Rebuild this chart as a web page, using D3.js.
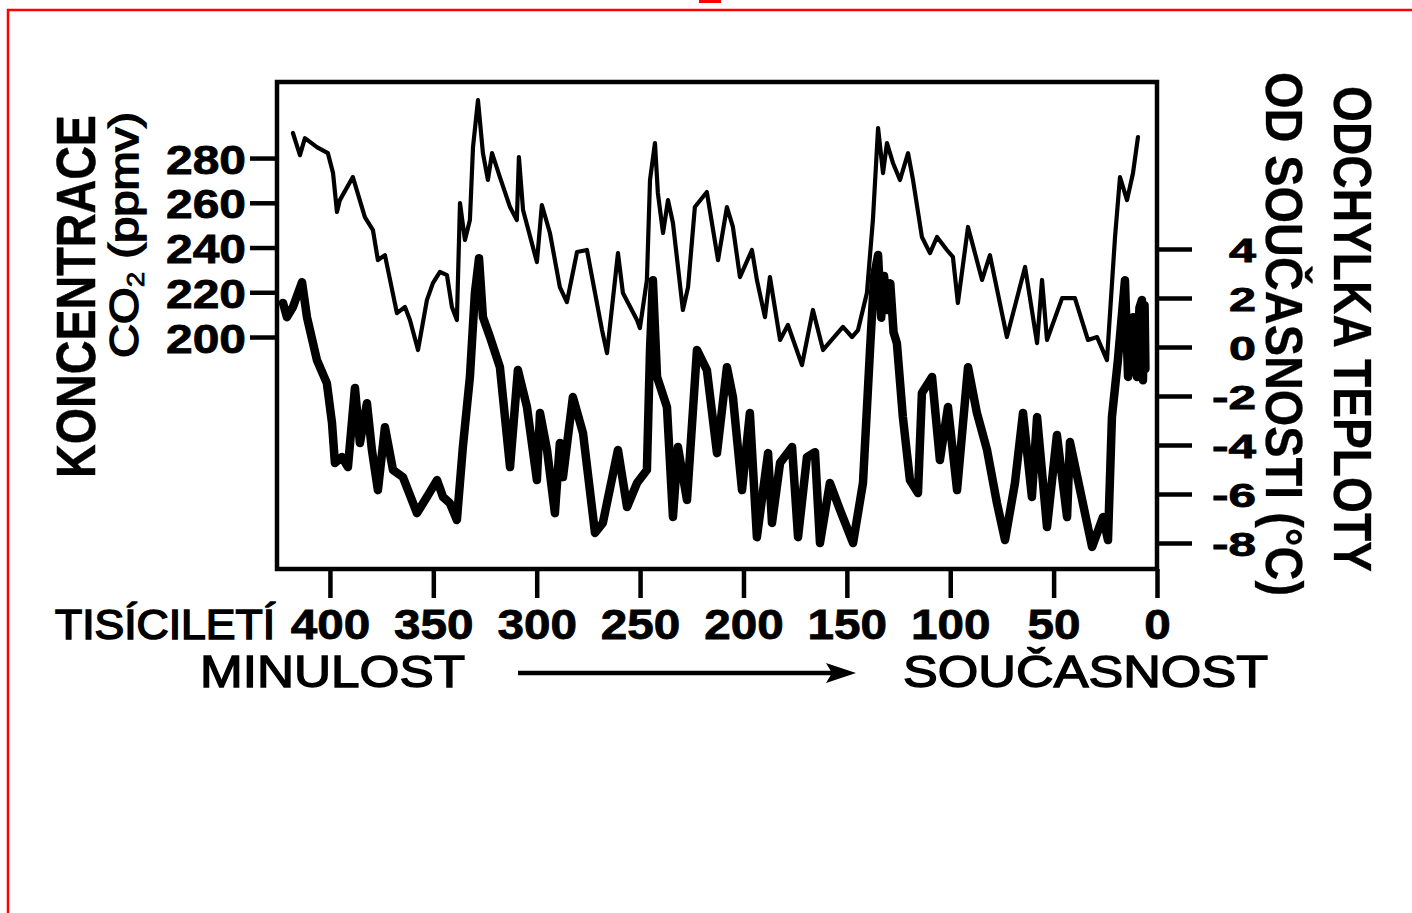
<!DOCTYPE html>
<html>
<head>
<meta charset="utf-8">
<script src="https://cdn.jsdelivr.net/npm/d3@7"></script>
<style>
  html, body { margin: 0; padding: 0; background: #fff; }
  svg { display: block; font-family: "Liberation Sans", Arial, Helvetica, sans-serif; }
</style>
</head>
<body>
<svg id="chart" width="1412" height="913"></svg>
<script>
// ---- data (thousands of years before present) ----
const co2Age = [417.9,414.5,412.1,406.3,401.0,398.5,396.6,395.2,388.9,383.1,379.2,376.8,373.4,367.6,363.7,361.3,357.4,353.1,350.2,346.8,343.4,341.0,338.6,337.1,334.7,332.3,330.8,328.4,326.0,323.6,321.6,317.8,312.9,309.6,308.6,306.6,299.9,297.5,293.6,288.8,285.4,280.5,275.7,271.8,268.4,266.0,260.7,258.3,251.5,250.1,246.7,245.2,242.8,241.4,238.9,236.5,234.1,229.3,226.8,223.5,217.7,212.3,208.0,205.1,201.7,195.9,193.5,189.6,187.2,182.3,178.5,171.7,166.4,161.5,151.9,147.5,144.6,140.3,137.4,134.9,132.5,130.6,127.7,124.3,120.4,118.0,113.7,109.8,106.4,101.6,98.7,96.3,91.4,84.6,80.8,72.6,63.8,58.0,55.6,53.2,45.9,39.7,33.4,29.0,24.2,20.3,17.9,14.5,11.6,9.2];
const co2Value = [291.2,281.3,288.9,284.9,282.2,273.3,255.9,261.2,271.5,253.6,247.8,234.4,236.6,210.7,213.4,207.6,194.2,216.5,224.1,229.1,227.7,213.4,207.6,259.9,243.4,252.3,284.9,305.9,282.2,270.2,282.2,271.5,258.1,252.3,280.4,256.8,233.5,259.0,246.5,222.3,215.6,238.0,238.9,219.7,203.1,192.8,237.5,219.7,207.6,204.0,225.5,270.2,286.7,264.4,246.5,261.2,251.0,212.1,222.3,258.1,264.8,234.4,258.1,249.2,226.8,238.9,225.5,208.9,226.8,198.7,205.4,187.5,212.1,194.2,204.5,200.0,203.1,219.7,252.3,293.4,273.3,286.7,277.8,270.2,282.2,270.2,244.7,237.5,244.7,238.9,235.8,215.2,249.2,225.5,236.6,200.0,231.3,197.3,225.5,198.7,217.4,217.4,198.7,200.0,189.7,244.7,271.5,261.2,273.3,289.4];

const tempAge = [422.7,420.8,417.9,413.5,411.1,406.3,401.5,399.0,397.6,394.2,391.3,387.9,385.5,382.1,379.7,376.8,373.4,369.5,364.7,357.9,353.1,348.2,345.3,342.0,338.6,335.7,332.3,329.9,327.9,326.0,322.6,317.8,312.9,309.1,304.7,299.9,298.4,295.0,291.2,288.8,287.3,282.5,277.6,271.8,268.0,260.7,256.3,251.5,246.7,245.2,243.8,241.8,237.0,234.1,231.7,227.3,222.5,217.7,212.8,208.0,205.1,200.7,196.9,193.5,188.1,186.2,182.3,176.5,173.6,169.3,165.4,163.0,158.2,153.3,147.0,142.2,138.8,136.8,134.9,133.4,132.0,130.6,129.0,127.4,125.8,122.9,119.5,115.6,113.7,108.8,105.0,101.1,96.7,91.4,87.1,82.2,77.4,73.5,68.7,64.8,60.5,58.0,53.2,48.4,43.5,42.1,37.2,31.4,26.1,23.7,21.8,18.9,15.5,14.0,11.6,10.6,9.7,8.5,7.3,6.8,6.0,5.6];
const tempValue = [1.80,1.22,1.63,2.65,1.22,-0.53,-1.47,-3.10,-4.73,-4.49,-4.90,-1.67,-3.92,-2.29,-4.20,-5.84,-3.27,-5.02,-5.31,-6.78,-6.12,-5.43,-6.12,-6.37,-7.06,-4.08,-1.22,2.20,3.63,1.22,0.41,-0.82,-4.90,-0.94,-2.45,-5.43,-2.69,-4.20,-6.78,-3.92,-5.31,-2.04,-3.51,-7.59,-7.18,-4.20,-6.53,-5.55,-5.02,-0.12,2.73,-1.22,-2.45,-6.94,-4.08,-6.24,-0.12,-0.94,-4.33,-0.82,-2.04,-5.84,-2.69,-7.76,-4.33,-7.18,-4.73,-4.08,-7.76,-4.49,-4.29,-8.00,-5.55,-6.65,-8.00,-5.55,-0.12,2.9,3.76,1.2,2.9,1.51,2.6,0.6,0.16,-2.86,-5.43,-5.96,-1.88,-1.22,-4.61,-2.45,-5.84,-0.82,-2.69,-4.20,-6.37,-7.88,-5.55,-2.69,-6.12,-2.86,-7.35,-3.59,-6.94,-3.88,-5.84,-8.16,-6.94,-7.88,-2.86,-0.53,2.73,-1.22,1.22,-0.6,-1.22,1.6,1.92,-1.35,1.7,-0.9];

const ageTicks = [400, 350, 300, 250, 200, 150, 100, 50, 0];
const co2Ticks = [200, 220, 240, 260, 280];
const tempTicks = [-8, -6, -4, -2, 0, 2, 4];

const xAxisLabel = "TISÍCILETÍ";
const pastLabel = "MINULOST";
const presentLabel = "SOUČASNOST";
const leftTitle1 = "KONCENTRACE";
const rightTitle1 = "ODCHYLKA TEPLOTY";
const rightTitle2 = "OD SOUČASNOSTI (°C)";

// ---- layout ----
const svg = d3.select("#chart");
const frame = { left: 277, right: 1157, top: 82, bottom: 569 };

const x = d3.scaleLinear().domain([425.6, 0]).range([frame.left, frame.right]);
const yCO2 = d3.scaleLinear().domain([96.3, 314]).range([frame.bottom, frame.top]);
const yT = d3.scaleLinear().domain([-9.06, 10.82]).range([frame.bottom, frame.top]);

// red outer border (from the source page)
svg.append("rect").attr("x", 8).attr("y", 10).attr("width", 1420).attr("height", 920)
  .attr("fill", "none").attr("stroke", "#ff0000").attr("stroke-width", 2.5);
svg.append("rect").attr("x", 699).attr("y", 0).attr("width", 22).attr("height", 3).attr("fill", "#ff0000");

// ---- lines ----
const co2Data = co2Age.map((a, i) => [a, co2Value[i]]);
const tempData = tempAge.map((a, i) => [a, tempValue[i]]);

svg.append("path").datum(tempData)
  .attr("d", d3.line().x(d => x(d[0])).y(d => yT(d[1])))
  .attr("fill", "none").attr("stroke", "#000").attr("stroke-width", 8.5)
  .attr("stroke-linejoin", "round").attr("stroke-linecap", "round");

svg.append("path").datum(co2Data)
  .attr("d", d3.line().x(d => x(d[0])).y(d => yCO2(d[1])))
  .attr("fill", "none").attr("stroke", "#000").attr("stroke-width", 4.2)
  .attr("stroke-linejoin", "round").attr("stroke-linecap", "round");

// frame
svg.append("rect").attr("x", frame.left).attr("y", frame.top)
  .attr("width", frame.right - frame.left).attr("height", frame.bottom - frame.top)
  .attr("fill", "none").attr("stroke", "#000").attr("stroke-width", 4.5);

// ---- axes ----
const fmtMinus = d => (d < 0 ? "-" + Math.abs(d) : String(d));

const gx = svg.append("g").attr("transform", `translate(0,${frame.bottom})`)
  .call(d3.axisBottom(x).tickValues(ageTicks).tickSize(29).tickFormat(d3.format("d")));
gx.select(".domain").remove();
gx.selectAll(".tick line").attr("stroke", "#000").attr("stroke-width", 4.5);
gx.selectAll(".tick text")
  .attr("y", 70).attr("dy", null)
  .attr("font-size", 42).attr("font-weight", "bold").attr("fill", "#000")
  .attr("stroke", "#000").attr("stroke-width", 0.8)
  .attr("font-family", "Liberation Sans, Arial, sans-serif")
  .attr("textLength", d => String(d).length * 26.5)
  .attr("lengthAdjust", "spacingAndGlyphs");

const gl = svg.append("g").attr("transform", `translate(${frame.left},0)`)
  .call(d3.axisLeft(yCO2).tickValues(co2Ticks).tickSize(27).tickFormat(d3.format("d")));
gl.select(".domain").remove();
gl.selectAll(".tick line").attr("stroke", "#000").attr("stroke-width", 4.5);
gl.selectAll(".tick text")
  .attr("x", -31).attr("dy", null).attr("y", 15)
  .attr("font-size", 41).attr("font-weight", "bold").attr("fill", "#000")
  .attr("stroke", "#000").attr("stroke-width", 0.8)
  .attr("font-family", "Liberation Sans, Arial, sans-serif")
  .attr("textLength", 80).attr("lengthAdjust", "spacingAndGlyphs");

const gr = svg.append("g").attr("transform", `translate(${frame.right},0)`)
  .call(d3.axisRight(yT).tickValues(tempTicks).tickSize(35).tickFormat(fmtMinus));
gr.select(".domain").remove();
gr.selectAll(".tick line").attr("stroke", "#000").attr("stroke-width", 4.5);
gr.selectAll(".tick text")
  .attr("x", 99).attr("dy", null).attr("y", 12)
  .attr("text-anchor", "end")
  .attr("font-size", 33).attr("font-weight", "bold").attr("fill", "#000")
  .attr("stroke", "#000").attr("stroke-width", 0.8)
  .attr("font-family", "Liberation Sans, Arial, sans-serif")
  .attr("textLength", d => (d < 0 ? 17 : 0) + 27)
  .attr("lengthAdjust", "spacingAndGlyphs");

// ---- titles ----
const txt = (tx, ty, rot, str, size, weight, len, sw) =>
  svg.append("text")
    .attr("transform", `translate(${tx},${ty}) rotate(${rot})`)
    .attr("font-size", size).attr("font-weight", weight)
    .attr("fill", "#000").attr("stroke", "#000").attr("stroke-width", sw)
    .attr("textLength", len).attr("lengthAdjust", "spacingAndGlyphs")
    .text(str);

txt(55, 639, 0, xAxisLabel, 42, "normal", 220, 1.6);
txt(200, 687, 0, pastLabel, 45, "normal", 265, 1.4);
txt(903, 687, 0, presentLabel, 45, "normal", 365, 1.4);

txt(95, 478, -90, leftTitle1, 55, "bold", 363, 0.5);
// CO2 (ppmv) with subscript
const co2t = svg.append("text")
  .attr("transform", `translate(138,358) rotate(-90)`)
  .attr("font-size", 41).attr("fill", "#000")
  .attr("stroke", "#000").attr("stroke-width", 1.6)
  .attr("textLength", 246).attr("lengthAdjust", "spacingAndGlyphs");
co2t.append("tspan").text("CO");
co2t.append("tspan").attr("font-size", 24).attr("dy", 6).attr("stroke-width", 0.8).text("2");
co2t.append("tspan").attr("dy", -6).text(" (ppmv)");

txt(1334, 86, 90, rightTitle1, 54, "bold", 486, 0.3);
txt(1266, 72, 90, rightTitle2, 52, "bold", 524, 0.3);

// arrow MINULOST -> SOUČASNOST
const arrowY = 673;
svg.append("line").attr("x1", 518).attr("x2", 835).attr("y1", arrowY).attr("y2", arrowY)
  .attr("stroke", "#000").attr("stroke-width", 4.5);
svg.append("path")
  .attr("d", `M856,${arrowY} L826,${arrowY - 10} L832,${arrowY} L826,${arrowY + 10} Z`)
  .attr("fill", "#000");
</script>
</body>
</html>
